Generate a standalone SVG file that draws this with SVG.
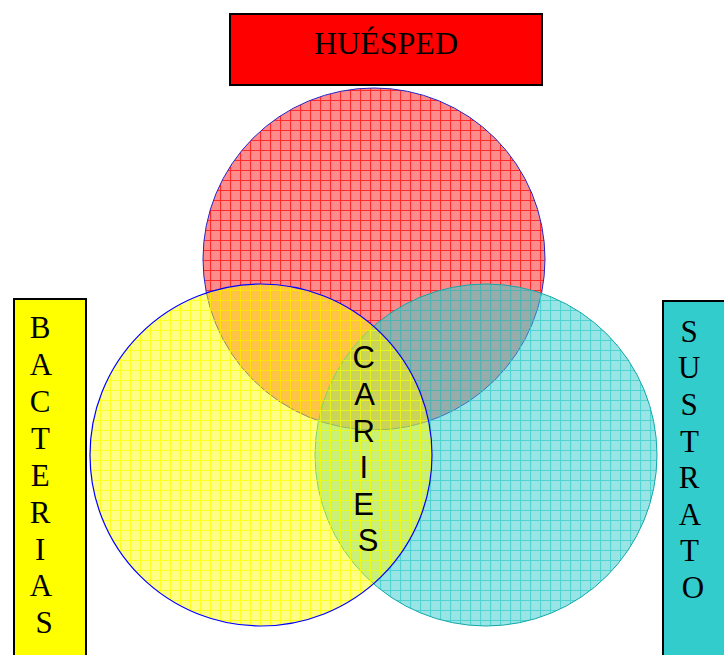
<svg xmlns="http://www.w3.org/2000/svg" width="724" height="655" viewBox="0 0 724 655">
<defs>
<pattern id="pRed" patternUnits="userSpaceOnUse" width="10" height="10">
<rect width="10" height="10" fill="#FF0000" fill-opacity="0.45"/>
<path d="M0.5 0V10M0 0.5H10" stroke="#FF0000" stroke-opacity="0.7" stroke-width="1.2" fill="none"/>
</pattern>
<pattern id="pCyan" patternUnits="userSpaceOnUse" width="10" height="10">
<rect width="10" height="10" fill="#33CCCC" fill-opacity="0.5"/>
<path d="M0.5 0V10M0 0.5H10" stroke="#33CCCC" stroke-opacity="0.7" stroke-width="1.2" fill="none"/>
</pattern>
<pattern id="pYellow" patternUnits="userSpaceOnUse" width="10" height="10">
<rect width="10" height="10" fill="#FFFF00" fill-opacity="0.48"/>
<path d="M0.5 0V10M0 0.5H10" stroke="#FFFF00" stroke-opacity="0.75" stroke-width="1.2" fill="none"/>
</pattern>
</defs>
<style>
.box{stroke:#000;stroke-width:2}
.serif{font-family:"Liberation Serif","Times New Roman",serif;fill:#000}
.sans{font-family:"Liberation Sans",Arial,sans-serif;fill:#000}
</style>
<rect width="724" height="655" fill="#fff"/>
<g id="circle-huesped">
<circle cx="374" cy="259" r="171" fill="url(#pRed)" stroke="#2424C8" stroke-width="1"/>
</g>
<g id="circle-sustrato">
<circle cx="486" cy="455" r="171" fill="url(#pCyan)" stroke="#10A8A8" stroke-width="1"/>
</g>
<g id="circle-bacterias">
<circle cx="261" cy="455" r="171" fill="url(#pYellow)" stroke="#0000FF" stroke-width="1.2"/>
</g>
<g id="huesped">
<rect class="box" x="230" y="14" width="312" height="71" fill="#FF0000"/>
<text class="serif" x="386" y="54" font-size="32" text-anchor="middle">HUÉSPED</text>
</g>
<g id="bacterias">
<rect class="box" x="14" y="299" width="72" height="360" fill="#FFFF00"/>
<text class="serif" font-size="31" text-anchor="middle">
<tspan x="44" y="338">B</tspan>
<tspan x="44" y="375">A</tspan>
<tspan x="44" y="412">C</tspan>
<tspan x="44" y="449">T</tspan>
<tspan x="44" y="486">E</tspan>
<tspan x="44" y="523">R</tspan>
<tspan x="44" y="560">I</tspan>
<tspan x="44" y="596">A</tspan>
<tspan x="44" y="633">S</tspan>
</text>
</g>
<g id="sustrato">
<rect class="box" x="663" y="301" width="70" height="360" fill="#33CCCC"/>
<text class="serif" font-size="31" text-anchor="middle">
<tspan x="693" y="342">S</tspan>
<tspan x="693" y="378">U</tspan>
<tspan x="693" y="415">S</tspan>
<tspan x="693" y="452">T</tspan>
<tspan x="693" y="488">R</tspan>
<tspan x="693" y="525">A</tspan>
<tspan x="693" y="561">T</tspan>
<tspan x="693" y="598">O</tspan>
</text>
</g>
<g id="caries">
<text class="sans" font-size="31" text-anchor="middle">
<tspan x="368" y="368">C</tspan>
<tspan x="368" y="405">A</tspan>
<tspan x="368" y="442">R</tspan>
<tspan x="368" y="478">I</tspan>
<tspan x="368" y="515">E</tspan>
<tspan x="368" y="551">S</tspan>
</text>
</g>
<g id="connectors"/>
</svg>
